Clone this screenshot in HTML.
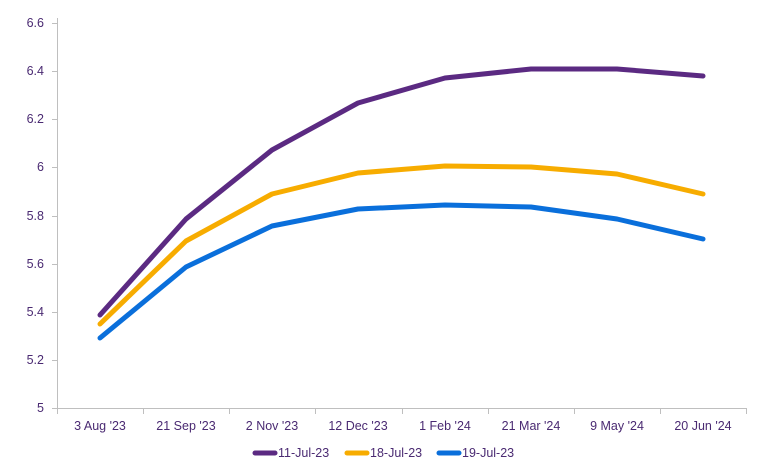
<!DOCTYPE html>
<html><head><meta charset="utf-8"><style>body{margin:0;background:#fff}svg{display:block}text{font-family:"Liberation Sans",sans-serif;font-size:12.5px;fill:#4a2a72}</style></head>
<body><svg width="768" height="471" viewBox="0 0 768 471">
<g stroke="#bfbfbf" stroke-width="1">
<line x1="57.5" y1="18" x2="57.5" y2="409"/>
<line x1="57" y1="408.5" x2="747" y2="408.5"/>
<line x1="52" y1="408.5" x2="57" y2="408.5"/><line x1="52" y1="360.5" x2="57" y2="360.5"/><line x1="52" y1="312.5" x2="57" y2="312.5"/><line x1="52" y1="264.5" x2="57" y2="264.5"/><line x1="52" y1="216.5" x2="57" y2="216.5"/><line x1="52" y1="167.5" x2="57" y2="167.5"/><line x1="52" y1="119.5" x2="57" y2="119.5"/><line x1="52" y1="71.5" x2="57" y2="71.5"/><line x1="52" y1="23.5" x2="57" y2="23.5"/>
<line x1="57.5" y1="409" x2="57.5" y2="414"/><line x1="143.5" y1="409" x2="143.5" y2="414"/><line x1="229.5" y1="409" x2="229.5" y2="414"/><line x1="315.5" y1="409" x2="315.5" y2="414"/><line x1="402.5" y1="409" x2="402.5" y2="414"/><line x1="488.5" y1="409" x2="488.5" y2="414"/><line x1="574.5" y1="409" x2="574.5" y2="414"/><line x1="660.5" y1="409" x2="660.5" y2="414"/><line x1="746.5" y1="409" x2="746.5" y2="414"/>
</g>
<g text-anchor="end">
<text x="44" y="412">5</text><text x="44" y="364">5.2</text><text x="44" y="316">5.4</text><text x="44" y="268">5.6</text><text x="44" y="220">5.8</text><text x="44" y="171">6</text><text x="44" y="123">6.2</text><text x="44" y="75">6.4</text><text x="44" y="27">6.6</text>
</g>
<g text-anchor="middle">
<text x="100" y="430">3 Aug '23</text><text x="186" y="430">21 Sep '23</text><text x="272" y="430">2 Nov '23</text><text x="358" y="430">12 Dec '23</text><text x="445" y="430">1 Feb '24</text><text x="531" y="430">21 Mar '24</text><text x="617" y="430">9 May '24</text><text x="703" y="430">20 Jun '24</text>
</g>
<g fill="none" stroke-width="5" stroke-linecap="round" stroke-linejoin="round">
<polyline stroke="#5b2a82" points="100,315 186,219 272,150 358,103 445,78 531,69 617,69 703,76"/>
<polyline stroke="#f7ac00" points="100,324 186,241 272,194 358,173 445,166 531,167 617,174 703,194"/>
<polyline stroke="#0a6fdb" points="100,338 186,267 272,226 358,209 445,205 531,207 617,219 703,239"/>
<line stroke="#5b2a82" x1="255" y1="453" x2="275" y2="453"/>
<line stroke="#f7ac00" x1="347" y1="453" x2="367" y2="453"/>
<line stroke="#0a6fdb" x1="439" y1="453" x2="459" y2="453"/>
</g>
<text x="278" y="457">11-Jul-23</text><text x="370" y="457">18-Jul-23</text><text x="462" y="457">19-Jul-23</text>
</svg></body></html>
